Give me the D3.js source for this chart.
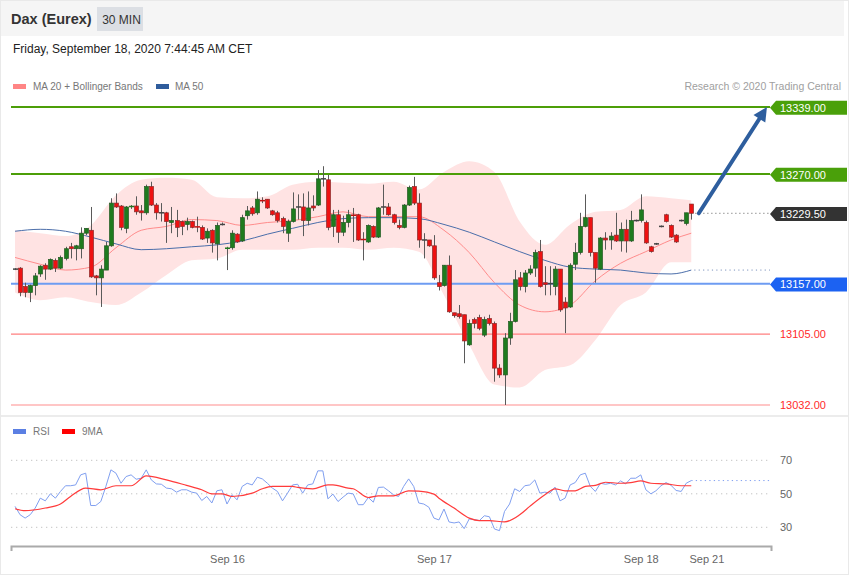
<!DOCTYPE html>
<html><head><meta charset="utf-8">
<script src="https://cdn.jsdelivr.net/npm/d3@7/dist/d3.min.js"></script>
<style>body{margin:0;background:#fff;font-family:Arial,"Liberation Sans",sans-serif;}svg{display:block}</style>
</head><body><svg id="c" width="850" height="576"></svg>
<script>
// ---------------- DATA ----------------
const openP = [13172,13173,13154,13148,13155,13167,13176,13172,13181,13173,13183,13195,13193,13193,13209,13212,13165,13163,13171,13196,13240,13237,13214,13236,13237,13232,13230,13257,13238,13230,13230,13220,13222,13221,13218,13221,13216,13215,13204,13212,13198,13218,13193,13194,13208,13201,13227,13235,13230,13243,13244,13232,13230,13224,13209,13221,13236,13236,13222,13237,13238,13265,13264,13216,13228,13210,13220,13228,13228,13203,13200,13216,13205,13236,13236,13228,13217,13215,13238,13257,13240,13202,13202,13196,13158,13155,13176,13127,13126,13125,13094,13120,13122,13104,13121,13116,13070,13063,13101,13118,13163,13154,13168,13173,13190,13158,13157,13154,13172,13138,13133,13177,13189,13216,13225,13189,13172,13204,13202,13207,13201,13213,13201,13222,13222,13220,13195,13198,13216,13228,13217,13207,13222,13219,13239];
const highP = [13173,13174,13158,13156,13168,13176,13178,13183,13183,13186,13195,13199,13197,13215,13214,13236,13166,13176,13200,13245,13250,13238,13237,13238,13247,13238,13259,13262,13240,13240,13231,13236,13233,13222,13225,13222,13226,13217,13214,13213,13220,13220,13195,13212,13209,13228,13237,13237,13252,13246,13244,13233,13232,13226,13223,13251,13249,13250,13252,13248,13274,13278,13269,13233,13233,13227,13233,13235,13229,13210,13218,13217,13236,13259,13240,13229,13223,13239,13258,13267,13250,13209,13202,13207,13166,13176,13186,13127,13135,13125,13120,13122,13125,13123,13125,13118,13074,13106,13127,13171,13169,13171,13176,13192,13202,13175,13175,13175,13172,13143,13178,13199,13230,13249,13225,13189,13205,13210,13210,13230,13220,13223,13232,13223,13249,13222,13196,13199,13217,13229,13218,13208,13223,13230,13239];
const lowP = [13171,13144,13143,13138,13145,13164,13161,13171,13169,13172,13181,13183,13181,13183,13207,13163,13145,13133,13171,13195,13235,13212,13209,13234,13228,13222,13228,13237,13223,13221,13199,13209,13205,13207,13212,13214,13210,13202,13199,13189,13181,13217,13171,13192,13199,13200,13223,13227,13228,13240,13234,13227,13220,13209,13200,13220,13223,13206,13217,13232,13237,13257,13212,13205,13199,13206,13215,13200,13201,13181,13199,13204,13204,13228,13227,13218,13213,13214,13237,13238,13194,13183,13195,13161,13150,13154,13127,13122,13121,13075,13093,13111,13109,13102,13114,13056,13060,13032,13094,13117,13150,13148,13166,13164,13153,13145,13145,13145,13128,13106,13132,13171,13187,13215,13185,13158,13171,13192,13192,13200,13190,13189,13200,13221,13220,13198,13189,13197,13215,13220,13204,13199,13221,13217,13223];
const closeP = [13172,13148,13148,13155,13165,13175,13172,13182,13173,13184,13193,13193,13196,13209,13214,13164,13163,13172,13196,13240,13236,13215,13236,13237,13231,13230,13257,13238,13230,13230,13221,13222,13215,13216,13221,13215,13215,13203,13211,13199,13217,13218,13194,13209,13200,13225,13232,13229,13244,13242,13235,13228,13222,13216,13221,13234,13236,13222,13235,13235,13265,13265,13215,13228,13210,13220,13228,13227,13202,13202,13217,13205,13235,13236,13228,13220,13215,13238,13256,13240,13202,13202,13196,13163,13154,13176,13128,13124,13123,13098,13116,13116,13111,13120,13116,13070,13063,13101,13118,13161,13154,13168,13172,13189,13154,13156,13157,13172,13130,13132,13176,13189,13216,13225,13189,13173,13204,13202,13206,13201,13213,13201,13222,13222,13233,13199,13190,13198,13216,13221,13205,13200,13222,13230,13229.5];

// indicator readings (sampled bar index -> value)
const bandIdx = [0,5,10,15,20,25,30,35,40,45,50,55,60,65,70,75,80,85,90,95,100,105,110,115,120,125,130,134];
const bbUpper = [13212,13209,13206,13217,13248,13264,13266,13264,13246,13245,13247,13259,13262,13261,13260,13262,13254,13272,13283,13272,13221,13197,13218,13231,13233,13247,13245,13243];
const ma20 = [13184,13177,13171,13174,13194,13212,13216,13223,13222,13217,13220,13222,13226,13231,13226,13226,13226,13212,13189,13158,13135,13128,13135,13160,13178,13190,13202,13209];
const bbLower = [13148,13140,13143,13138,13135,13148,13166,13181,13183,13192,13192,13192,13194,13194,13192,13194,13190,13145,13094,13053,13050,13068,13073,13099,13135,13148,13179,13179];
const ma50 = [13211,13213,13211,13205,13198,13192,13193,13195,13197,13201,13208,13214,13220,13224,13225,13225,13224,13218,13210,13200,13190,13181,13174,13172,13171,13168,13167,13171];

const rsi = [42.5,37.5,35.5,37.5,41.5,47.4,45.8,50,47.4,51.4,54.8,54.8,55.3,61.3,62.3,43,43,45.4,54.4,64.3,62.3,56.3,60.3,61.3,58.7,59.3,64.3,58.3,55.9,55.7,53.4,53,51,52.4,52.4,51,50.4,46,48.4,44.5,51.8,52.4,43.9,49.4,46.4,54.4,56.3,55.3,59.9,58.9,56.3,53.4,51.4,45.8,50.4,55.3,55.7,50.4,55.3,55.9,63.7,63.7,47,49.8,45.4,48,50.4,50,43.5,43.5,47.8,45,53.8,54,51.8,49.4,48.4,54.4,58.9,54.4,44.5,43.9,42,35.5,34.4,40.9,33.2,32.6,33.2,29.2,35,34.6,34,36.9,36.3,29,28,39.5,43.9,53,51.4,54.8,55.3,58.3,50.4,51,50.4,54,45.8,47.4,55.3,56.7,61.3,62.3,54.4,51.4,56.3,55.7,56.3,55.3,57.7,55.9,59.3,59.3,61.3,52.4,50,51.8,54.8,56.7,55,52,51.4,56.3,57.9];
const rsiMaIdx = [0,2,6,9,11,14,17,20,23,26,30,34,37,39,41,43,47,49,51,55,56,59,62,63,66,67,70,72,75,78,80,83,84,87,90,92,94,97,100,102,105,107,109,111,113,115,117,120,122,124,126,129,132,134];
const rsiMa = [41.1,39.9,41.5,43.9,48.4,53.4,52.4,54.8,54.8,60.7,58.3,55,52.4,50,50,48.4,50.4,53,54.4,54.4,53.8,53,55.3,55.3,53.4,53,47.8,48.8,48.8,51.8,51.6,49.8,47.4,41.5,35.5,34,34,33.2,37.5,42.5,49.4,53,51.8,51.8,54.4,55,56.9,56.3,56.7,57.7,56.3,55.9,54.8,54.8];

const levelValues = [13339, 13270, 13229.5, 13157, 13105, 13032];
const levelKinds = ['res', 'res', 'last', 'pivot', 'sup', 'sup2'];
const rsiTicks = [70, 50, 30];
const dayTickIdx = [42, 83, 124, 137];
const dayTickLabels = ['Sep 16', 'Sep 17', 'Sep 18', 'Sep 21'];
const arrowIdx = [135.5, 149];
const arrowPrice = [13229.5, 13339];

// ---------------- CHART ----------------
const svg = d3.select('#c');
const W = 850, H = 576;
const plotL = 11, plotR = 770;

const x = d3.scaleLinear().domain([-0.8, 149.8]).range([11, 771]);
const y = d3.scaleLinear().domain([13032, 13339]).range([405, 107]);
const yr = d3.scaleLinear().domain([30, 70]).range([527.3, 460.3]);

// frame
svg.append('rect').attr('x', 0.5).attr('y', 0.5).attr('width', W - 2).attr('height', H - 2)
  .attr('fill', '#fff').attr('stroke', '#e9e9e9');
svg.append('rect').attr('x', 1).attr('y', 1).attr('width', 843).attr('height', 35).attr('fill', '#f5f5f5');
svg.append('text').attr('x', 11).attr('y', 24).text('Dax (Eurex)')
  .attr('font-weight', 'bold').attr('font-size', 14.5).attr('fill', '#333');
svg.append('rect').attr('x', 97).attr('y', 7).attr('width', 46).attr('height', 24).attr('fill', '#dcdfe4');
svg.append('text').attr('x', 121.5).attr('y', 23.5).attr('text-anchor', 'middle').text('30 MIN')
  .attr('font-size', 12).attr('fill', '#333');
svg.append('text').attr('x', 13).attr('y', 53).text('Friday, September 18, 2020 7:44:45 AM CET')
  .attr('font-size', 12).attr('fill', '#222');

// legends
const leg = svg.append('g').attr('font-size', 10).attr('fill', '#777');
leg.append('rect').attr('x', 13).attr('y', 84).attr('width', 13).attr('height', 5).attr('fill', '#ff8585');
leg.append('text').attr('x', 33).attr('y', 90).text('MA 20 + Bollinger Bands');
leg.append('rect').attr('x', 156).attr('y', 84).attr('width', 13).attr('height', 5).attr('fill', '#2f5c9c');
leg.append('text').attr('x', 175).attr('y', 90).text('MA 50');
svg.append('text').attr('x', 841).attr('y', 90).attr('text-anchor', 'end').attr('font-size', 10.5)
  .attr('fill', '#a0a0a0').text('Research \u00A9 2020 Trading Central');

// bands
const band = bandIdx.map((d, i) => ({ i: d, u: bbUpper[i], m: ma20[i], l: bbLower[i], m50: ma50[i] }));
svg.append('path').datum(band)
  .attr('d', d3.area().x(d => x(d.i)).y0(d => y(d.l)).y1(d => y(d.u)).curve(d3.curveMonotoneX))
  .attr('fill', '#ffe3e3');
svg.append('path').datum(band)
  .attr('d', d3.line().x(d => x(d.i)).y(d => y(d.m)).curve(d3.curveMonotoneX))
  .attr('fill', 'none').attr('stroke', '#ff8c8c').attr('stroke-width', 1);
svg.append('path').datum(band)
  .attr('d', d3.line().x(d => x(d.i)).y(d => y(d.m50)).curve(d3.curveMonotoneX))
  .attr('fill', 'none').attr('stroke', '#4b6eaa').attr('stroke-width', 1);
// ma50 projection
svg.append('line').attr('x1', x(bandIdx[bandIdx.length - 1]) + 3).attr('x2', plotR)
  .attr('y1', y(ma50[ma50.length - 1])).attr('y2', y(ma50[ma50.length - 1]))
  .attr('stroke', '#7d93bd').attr('stroke-dasharray', '1.2,3.2');

// level lines
const levelStyle = {
  res: { c: '#4c9e08', w: 2, tag: '#4aa00a' },
  last: { c: '#777', w: 1, tag: '#333' },
  pivot: { c: '#6e9cf2', w: 2, tag: '#1c62f2' },
  sup: { c: '#ff7f7f', w: 1.2, tag: null },
  sup2: { c: '#ffb3b3', w: 1.6, tag: null }
};
levelValues.forEach((v, k) => {
  const s = levelStyle[levelKinds[k]];
  const yy = y(v);
  if (levelKinds[k] === 'last') {
    svg.append('line').attr('x1', x(closeP.length - 1) + 4).attr('x2', plotR).attr('y1', yy).attr('y2', yy)
      .attr('stroke', '#777').attr('stroke-dasharray', '1.2,2.8');
  } else {
    svg.append('line').attr('x1', plotL).attr('x2', plotR).attr('y1', yy).attr('y2', yy)
      .attr('stroke', s.c).attr('stroke-width', s.w);
  }
  const label = d3.format('.2f')(v);
  if (s.tag) {
    const cy = yy + 0.8;
    svg.append('path').attr('d', `M770,${cy} L776,${cy - 7} L847,${cy - 7} L847,${cy + 7} L776,${cy + 7} Z`)
      .attr('fill', s.tag);
    svg.append('text').attr('x', 780).attr('y', cy + 4).attr('font-size', 11).attr('fill', '#fff').text(label);
  } else {
    svg.append('text').attr('x', 780).attr('y', yy + 4).attr('font-size', 11).attr('fill', '#ff2a2a').text(label);
  }
});

// candles
const cg = svg.append('g');
closeP.forEach((c, i) => {
  const o = openP[i], h = highP[i], l = lowP[i];
  const cx = Math.round(x(i)) + 0.5;
  cg.append('line').attr('x1', cx).attr('x2', cx).attr('y1', y(h)).attr('y2', y(l))
    .attr('stroke', '#5a5a5a').attr('stroke-width', 1);
  const top = y(Math.max(o, c)), bot = y(Math.min(o, c));
  if (bot - top < 1.5) {
    cg.append('rect').attr('x', cx - 2.5).attr('y', (top + bot) / 2 - 0.75).attr('width', 5).attr('height', 1.5)
      .attr('fill', c > o ? '#1f7a1f' : (c < o ? '#c01010' : '#444'));
  } else {
    cg.append('rect').attr('x', cx - 2).attr('y', top).attr('width', 4).attr('height', bot - top)
      .attr('fill', c > o ? '#1e7b1e' : '#ee1111').attr('stroke', c > o ? '#235a23' : '#8a2a2a').attr('stroke-width', 0.7);
  }
});

// projection arrow
{
  const x1 = x(arrowIdx[0]), y1 = y(arrowPrice[0]), x2 = x(arrowIdx[1]), y2 = y(arrowPrice[1]);
  const ang = Math.atan2(y2 - y1, x2 - x1);
  const hl = 14, hw = 7;
  const bx = x2 - hl * Math.cos(ang), by = y2 - hl * Math.sin(ang);
  svg.append('line').attr('x1', x1).attr('y1', y1).attr('x2', bx).attr('y2', by)
    .attr('stroke', '#2e5e9e').attr('stroke-width', 4).attr('stroke-linecap', 'round');
  const px = -Math.sin(ang), py = Math.cos(ang);
  svg.append('path').attr('d', `M${x2},${y2} L${bx + px * hw},${by + py * hw} L${bx - px * hw},${by - py * hw} Z`)
    .attr('fill', '#2e5e9e');
}

// separator
svg.append('line').attr('x1', 1).attr('x2', 848).attr('y1', 416).attr('y2', 416).attr('stroke', '#e6e6e6').attr('stroke-width', 1.5);

// RSI panel
const rleg = svg.append('g').attr('font-size', 10).attr('fill', '#777');
rleg.append('rect').attr('x', 13).attr('y', 429).attr('width', 13).attr('height', 5).attr('fill', '#5b7fe3');
rleg.append('text').attr('x', 33).attr('y', 435).text('RSI');
rleg.append('rect').attr('x', 62).attr('y', 429).attr('width', 13).attr('height', 5).attr('fill', '#f00');
rleg.append('text').attr('x', 82).attr('y', 435).text('9MA');

rsiTicks.forEach(t => {
  svg.append('line').attr('x1', plotL).attr('x2', plotR).attr('y1', yr(t)).attr('y2', yr(t))
    .attr('stroke', '#c4c4c4').attr('stroke-dasharray', '1.3,3.7');
  svg.append('text').attr('x', 780).attr('y', yr(t) + 4).attr('font-size', 11).attr('fill', '#666').text(t);
});
svg.append('path').datum(rsi)
  .attr('d', d3.line().x((d, i) => x(i)).y(d => yr(d)))
  .attr('fill', 'none').attr('stroke', '#809ff0').attr('stroke-width', 1);
svg.append('line').attr('x1', x(rsi.length - 1)).attr('x2', plotR)
  .attr('y1', yr(rsi[rsi.length - 1])).attr('y2', yr(rsi[rsi.length - 1]))
  .attr('stroke', '#809ff0').attr('stroke-dasharray', '1.3,3.2');
svg.append('path').datum(rsiMaIdx.map((d, i) => [d, rsiMa[i]]))
  .attr('d', d3.line().x(d => x(d[0])).y(d => yr(d[1])).curve(d3.curveMonotoneX))
  .attr('fill', 'none').attr('stroke', '#ff3b3b').attr('stroke-width', 1.2);

// x axis
const axis = d3.axisBottom(x).tickValues(dayTickIdx).tickFormat((d, i) => dayTickLabels[i])
  .tickSizeInner(0).tickSizeOuter(5).tickPadding(9);
const ag = svg.append('g').attr('transform', 'translate(0,546)').call(axis);
ag.select('.domain').attr('stroke', '#aaa').attr('stroke-width', 2);
ag.selectAll('text').attr('font-size', 11).attr('fill', '#666').attr('font-family', 'Arial,"Liberation Sans",sans-serif');
</script>
</body></html>
